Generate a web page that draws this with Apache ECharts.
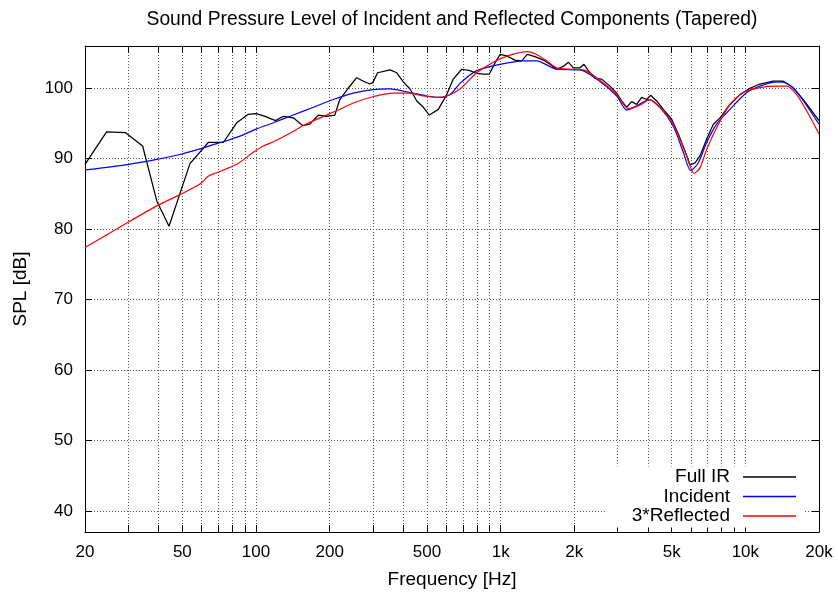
<!DOCTYPE html>
<html>
<head>
<meta charset="utf-8">
<script src="https://cdn.jsdelivr.net/npm/echarts@6/dist/echarts.min.js"></script>
<style>
  html, body { margin: 0; padding: 0; background: #fff; }
  #chart { width: 838px; height: 592px; }
</style>
</head>
<body>
<div id="chart"></div>
<script>
// Frequency response data: frequency in Hz, level in dB SPL
const fullFreq = [20, 24.5, 29.3, 34.4, 39.3, 44.1, 53.7, 63.8, 73.5, 83.4, 93, 100, 109, 120, 129, 142, 155, 166, 180, 194, 210, 220, 238, 258, 275, 292, 300, 314, 353, 376, 400, 426, 454, 483, 511, 556, 602, 640, 693, 749, 798, 849, 898, 948, 994, 1058, 1144, 1219, 1285, 1381, 1494, 1591, 1694, 1803, 1890, 1981, 2110, 2190, 2281, 2430, 2587, 2797, 2980, 3123, 3274, 3431, 3596, 3769, 3950, 4102, 4340, 4621, 5000, 5322, 5668, 5941, 6226, 6525, 6950, 7400, 7877, 8654, 9508, 10448, 11480, 13010, 14290, 15704, 17254, 20000];
const fullSpl = [89.2, 93.8, 93.7, 91.8, 84.0, 80.4, 89.3, 92.3, 92.3, 95.1, 96.3, 96.4, 96.0, 95.4, 96.0, 95.8, 94.7, 94.9, 96.2, 96.0, 96.2, 98.4, 100.0, 101.5, 101.0, 100.6, 100.8, 102.2, 102.6, 102.2, 100.9, 99.9, 98.2, 97.3, 96.2, 97.0, 99.1, 101.3, 102.7, 102.5, 102.1, 102.0, 102.0, 103.6, 104.8, 104.6, 104.0, 103.9, 104.8, 104.5, 104.0, 103.4, 102.7, 103.1, 103.7, 102.9, 102.9, 103.4, 102.5, 101.4, 101.3, 100.3, 99.3, 98.2, 97.3, 98.1, 97.7, 98.7, 98.4, 99.0, 98.2, 97.0, 95.6, 93.5, 91.1, 89.1, 89.4, 90.4, 92.8, 94.9, 95.8, 97.7, 99.1, 100.0, 100.6, 101.0, 101.0, 100.1, 98.4, 95.4];

const incFreq = [20, 30.3, 39.3, 48.9, 59, 66.9, 73.5, 86, 100, 117.7, 142, 171.5, 207, 250, 300, 353, 426, 499, 565, 621, 682, 798, 994, 1238, 1400, 1694, 2110, 2468, 2980, 3274, 3596, 4050, 4478, 5077, 5578, 5980, 6421, 6950, 7634, 8654, 10130, 11480, 13430, 14760, 16720, 20000];
const incSpl = [88.4, 89.2, 89.9, 90.6, 91.4, 92.0, 92.4, 93.2, 94.2, 95.1, 96.2, 97.3, 98.4, 99.3, 99.8, 99.9, 99.4, 98.9, 98.7, 99.1, 100.7, 102.5, 103.4, 103.9, 103.9, 102.7, 102.6, 101.3, 98.9, 96.9, 97.5, 98.4, 97.3, 94.6, 90.9, 88.3, 89.4, 92.3, 94.9, 97.0, 99.4, 100.3, 100.9, 100.7, 98.9, 94.9];

const refFreq = [20, 27.8, 39.3, 48.9, 59, 63.8, 69, 83.4, 97.5, 107, 117.7, 137.7, 156, 182.6, 213.7, 250, 300, 364, 426, 483, 548, 602, 682, 798, 933, 1092, 1285, 1400, 1542, 1694, 1981, 2176, 2468, 2980, 3324, 3710, 4050, 4550, 5077, 5754, 6166, 6525, 6950, 7634, 8654, 9810, 11480, 13430, 14760, 16210, 17810, 20000];
const refSpl = [77.4, 80.3, 83.3, 84.9, 86.4, 87.5, 88.0, 89.2, 90.9, 91.8, 92.4, 93.6, 94.7, 95.8, 96.8, 97.9, 98.8, 99.3, 99.3, 98.9, 98.7, 98.9, 99.9, 102.2, 103.7, 104.7, 105.2, 104.8, 103.9, 102.9, 102.7, 102.6, 101.5, 99.1, 97.1, 97.6, 98.4, 97.0, 94.9, 90.4, 87.9, 88.7, 91.3, 94.4, 97.7, 99.4, 100.1, 100.3, 100.3, 99.1, 96.8, 93.5];

// Axis ticks
const freqLabels = [20, 50, 100, 200, 500, 1000, 2000, 5000, 10000, 20000];
const freqGrid = [20, 30, 40, 50, 60, 70, 80, 90, 100, 200, 300, 400, 500, 600, 700, 800, 900,
                  1000, 2000, 3000, 4000, 5000, 6000, 7000, 8000, 9000, 10000, 20000];
const splTicks = [40, 50, 60, 70, 80, 90, 100];
const seriesNames = ['Full IR', 'Incident', '3*Reflected'];

const FONT = '"Liberation Sans", Arial, Helvetica, sans-serif';
const lg = Math.log10;

function toPoints(freq, spl) {
  return freq.map((f, i) => [lg(f), spl[i]]);
}

function freqText(v) {
  const f = Math.round(Math.pow(10, v));
  return f >= 1000 ? (f / 1000) + 'k' : String(f);
}

const gridLine = { show: true, lineStyle: { color: '#555', width: 1, type: [1, 2] } };
const tickStyle = { lineStyle: { color: '#000', width: 1 } };

const chart = echarts.init(document.getElementById('chart'), null, { renderer: 'canvas' });

chart.setOption({
  animation: false,
  backgroundColor: '#fff',
  textStyle: { fontFamily: FONT },
  title: {
    text: 'Sound Pressure Level of Incident and Reflected Components (Tapered)',
    left: 447,
    top: 5,
    textAlign: 'center',
    textStyle: { fontFamily: FONT, fontSize: 19.3, fontWeight: 'normal', color: '#000' }
  },
  grid: { left: 85, right: 19, top: 46, bottom: 60, containLabel: false, outerBoundsMode: 'none' },
  legend: {
    orient: 'vertical',
    align: 'right',
    right: 33,
    top: 466.5,
    padding: [1, 9, 2, 26],
    itemGap: 0.5,
    itemWidth: 61,
    itemHeight: 1.4,
    symbolKeepAspect: false,
    icon: 'path://M0,0L0,1M8,0H61V1H8Z',
    itemStyle: { borderWidth: 0 },
    backgroundColor: '#fff',
    textStyle: { fontFamily: FONT, fontSize: 19, color: '#000' },
    data: seriesNames
  },
  xAxis: [{
    type: 'value',
    min: lg(20),
    max: lg(20000),
    name: 'Frequency [Hz]',
    nameLocation: 'middle',
    nameGap: 38,
    nameTextStyle: { fontFamily: FONT, fontSize: 19, color: '#000' },
    axisLine: { show: true, lineStyle: { color: '#000', width: 1 } },
    axisTick: Object.assign({ show: true, inside: true, length: 7, customValues: freqGrid.map(lg) }, tickStyle),
    axisLabel: { show: true, customValues: freqLabels.map(lg), formatter: freqText, margin: 12, fontFamily: FONT, fontSize: 17, color: '#000' },
    splitLine: gridLine
  }, {
    type: 'value',
    position: 'top',
    min: lg(20),
    max: lg(20000),
    axisLine: { show: true, onZero: false, lineStyle: { color: '#000', width: 1 } },
    axisTick: Object.assign({ show: true, inside: true, length: 7, customValues: freqGrid.map(lg) }, tickStyle),
    axisLabel: { show: false },
    splitLine: { show: false }
  }],
  yAxis: [{
    type: 'value',
    min: 37,
    max: 106,
    name: 'SPL [dB]',
    nameLocation: 'middle',
    nameGap: 55,
    nameRotate: 90,
    nameTextStyle: { fontFamily: FONT, fontSize: 19, color: '#000' },
    axisLine: { show: true, onZero: false, lineStyle: { color: '#000', width: 1 } },
    axisTick: Object.assign({ show: true, inside: true, length: 7, customValues: splTicks }, tickStyle),
    axisLabel: { show: true, customValues: splTicks, margin: 12, fontFamily: FONT, fontSize: 17, color: '#000' },
    splitLine: gridLine
  }, {
    type: 'value',
    position: 'right',
    min: 37,
    max: 106,
    axisLine: { show: true, onZero: false, lineStyle: { color: '#000', width: 1 } },
    axisTick: Object.assign({ show: true, inside: true, length: 7, customValues: splTicks }, tickStyle),
    axisLabel: { show: false },
    splitLine: { show: false }
  }],
  series: [
    { name: seriesNames[0], type: 'line', data: toPoints(fullFreq, fullSpl), showSymbol: false, symbol: 'none',
      color: '#000000', lineStyle: { width: 1.25 } },
    { name: seriesNames[1], type: 'line', data: toPoints(incFreq, incSpl), showSymbol: false, symbol: 'none', smooth: 0.25,
      color: '#0000ff', lineStyle: { width: 1.2 } },
    { name: seriesNames[2], type: 'line', data: toPoints(refFreq, refSpl), showSymbol: false, symbol: 'none', smooth: 0.25,
      color: '#ff0000', lineStyle: { width: 1.2 } }
  ]
});
</script>
</body>
</html>
